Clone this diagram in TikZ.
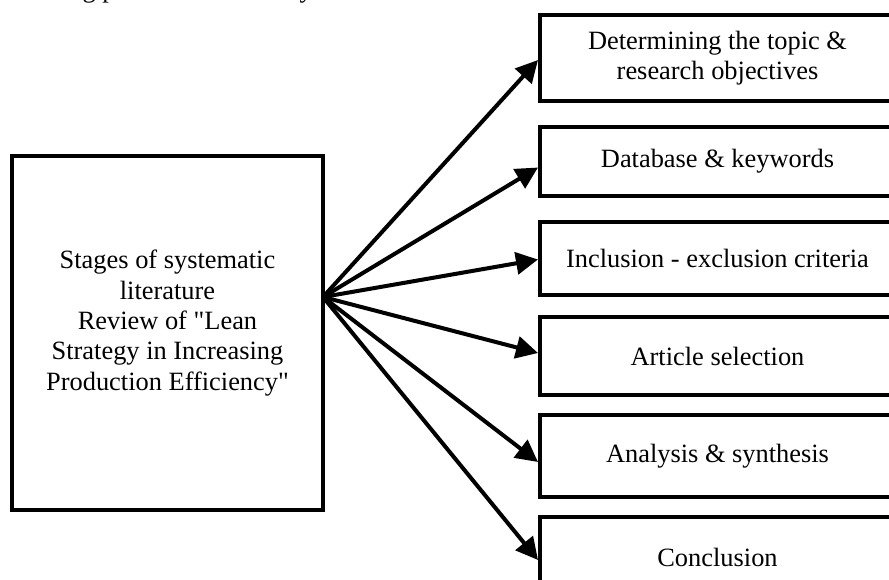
\documentclass[tikz,border=0pt]{standalone}
\usepackage{fontspec}
\setmainfont{Liberation Serif}[Ligatures=TeXOff]
\usetikzlibrary{arrows.meta,calc}
\newlength{\du}
\setlength{\du}{0.5pt}
\tikzset{
  stagebox/.style={draw, line width=2pt, align=center, inner sep=0pt, minimum width=355\du},
  stagearrow/.style={line width=2pt, -{Triangle[length=11pt,width=11pt]}},
}
\begin{document}
\begin{tikzpicture}[font=\fontsize{13.2}{15.2}\selectfont]
\pgftransformxscale{1.000000}
\pgftransformyscale{-1.000000}
\useasboundingbox (0\du,0\du) rectangle (889\du,579\du);
% caption line, cut off at the top
\node[anchor=base west, inner sep=0pt] (caption) at (69\du,-3\du){ng process of the study};
\node[stagebox, minimum width=311\du, minimum height=354\du] (stages) at (167.5\du,333\du){};
\node[align=center, inner sep=0pt] (stagestext) at (167.5\du,323\du){Stages of systematic\\literature\\Review of "Lean\\Strategy in Increasing\\Production Efficiency"};
\node[stagebox, minimum height=86\du] (topic) at (717.5\du,58\du){Determining the topic \&\\research objectives};
\node[stagebox, minimum height=69\du] (db) at (717.5\du,161.5\du){Database \& keywords};
\node[stagebox, minimum height=73\du] (incl) at (717.5\du,258.5\du){Inclusion - exclusion criteria};
\node[stagebox, minimum height=78\du] (sel) at (717.5\du,356\du){Article selection};
\node[stagebox, minimum height=82\du] (anal) at (717.5\du,456\du){Analysis \& synthesis};
\node[stagebox, minimum height=80\du] (concl) at (717.5\du,557\du){Conclusion};
\coordinate (hub) at (323\du,297\du);
\foreach \b/\dy in {topic/2,db/6,incl/1,sel/-3,anal/6,concl/3}
  \draw[stagearrow] (hub) -- ($(\b.west)+(0,\dy\du)$);
\end{tikzpicture}
\end{document}
